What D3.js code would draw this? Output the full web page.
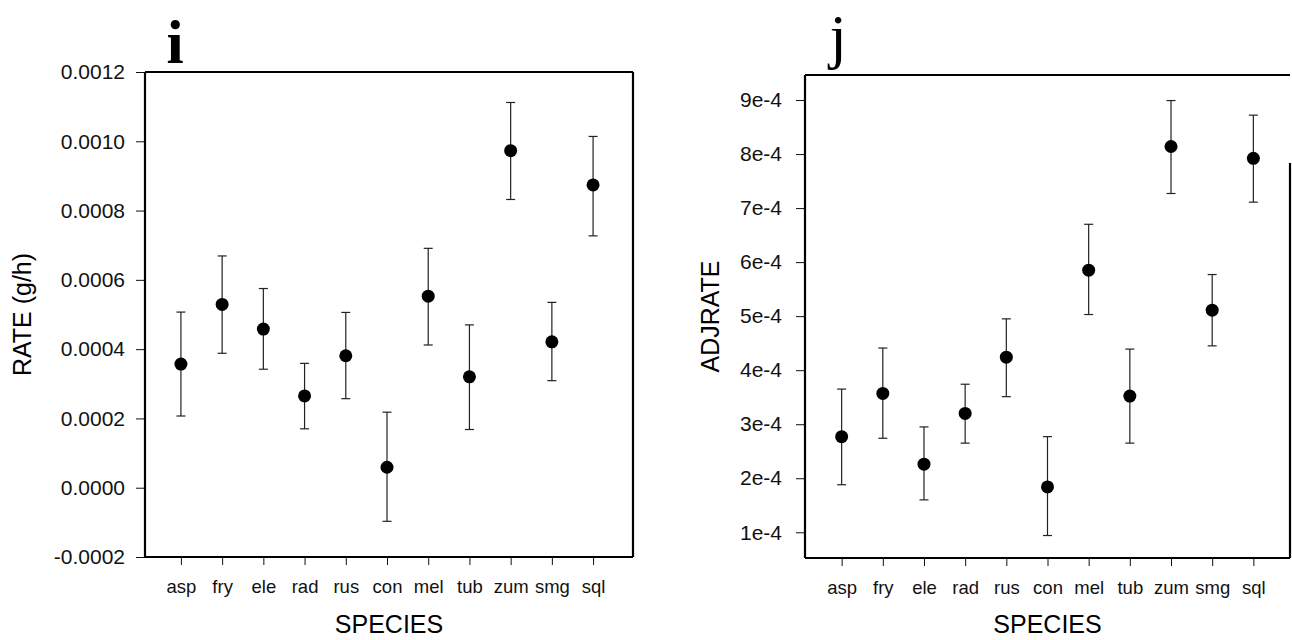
<!DOCTYPE html>
<html lang="en">
<head>
  <meta charset="UTF-8">
  <title>Species rate panels i and j</title>
  <script src="https://d3js.org/d3.v7.min.js"></script>
  <style>
    body {
      margin: 0;
      background: white;
    }
    svg {
      display: block;
      font-family: 'Liberation Sans', Arial, sans-serif;
    }
    .tick line {
      stroke: #111;
      stroke-width: 1;
    }
    .tick text {
      fill: #111;
    }
  </style>
</head>
<body>
  <svg id="chart" width="1292" height="640"></svg>

  <script>
    // species along the x axis
    var species = ["asp", "fry", "ele", "rad", "rus", "con", "mel", "tub", "zum", "smg", "sql"];

    // panel i: RATE (g/h)
    var rateMean = [0.000357, 0.000529, 0.000458, 0.000265, 0.000381, 0.000059, 0.000553, 0.000320, 0.000973, 0.000421, 0.000874];
    var rateLow  = [0.000207, 0.000388, 0.000342, 0.000170, 0.000257, -0.000097, 0.000412, 0.000168, 0.000832, 0.000309, 0.000727];
    var rateHigh = [0.000507, 0.000669, 0.000575, 0.000359, 0.000506, 0.000218, 0.000691, 0.000470, 0.001112, 0.000535, 0.001014];
    var rateTicks = [-0.0002, 0.0000, 0.0002, 0.0004, 0.0006, 0.0008, 0.0010, 0.0012];

    // panel j: ADJRATE
    var adjMean = [2.77e-4, 3.57e-4, 2.26e-4, 3.20e-4, 4.24e-4, 1.84e-4, 5.85e-4, 3.52e-4, 8.14e-4, 5.11e-4, 7.92e-4];
    var adjLow  = [1.88e-4, 2.74e-4, 1.60e-4, 2.65e-4, 3.51e-4, 0.94e-4, 5.03e-4, 2.65e-4, 7.27e-4, 4.45e-4, 7.11e-4];
    var adjHigh = [3.65e-4, 4.41e-4, 2.95e-4, 3.74e-4, 4.95e-4, 2.77e-4, 6.70e-4, 4.39e-4, 8.99e-4, 5.77e-4, 8.72e-4];
    var adjTicks = [1e-4, 2e-4, 3e-4, 4e-4, 5e-4, 6e-4, 7e-4, 8e-4, 9e-4];

    var svg = d3.select("#chart");

    function drawPanel(opt) {
      var g = svg.append("g");

      var x = d3.scalePoint()
        .domain(species)
        .range(opt.xRange)
        .padding(opt.xPad);

      var y = d3.scaleLinear()
        .domain(opt.yDomain)
        .range([opt.bottom, opt.top]);

      // y axis
      var yAxis = g.append("g")
        .attr("transform", "translate(" + opt.left + ",0)")
        .call(d3.axisLeft(y).tickValues(opt.yTicks).tickSize(9).tickPadding(opt.yPad).tickFormat(opt.yFormat));
      yAxis.select(".domain").remove();
      yAxis.selectAll("text").style("font-size", "21px");

      // x axis
      var xAxis = g.append("g")
        .attr("transform", "translate(0," + opt.bottom + ")")
        .call(d3.axisBottom(x).tickSize(8).tickPadding(15));
      xAxis.select(".domain").remove();
      xAxis.selectAll("text").style("font-size", "18.5px");

      // frame
      var frame = g.append("g").attr("stroke", "#000").attr("stroke-width", 2.2).attr("fill", "none");
      frame.append("line").attr("x1", opt.left).attr("x2", opt.right).attr("y1", opt.top).attr("y2", opt.top);
      frame.append("line").attr("x1", opt.left).attr("x2", opt.right).attr("y1", opt.bottom).attr("y2", opt.bottom);
      frame.append("line").attr("x1", opt.left).attr("x2", opt.left).attr("y1", opt.top).attr("y2", opt.bottom);
      frame.append("line").attr("x1", opt.right).attr("x2", opt.right).attr("y1", opt.rightTop).attr("y2", opt.bottom);

      // error bars
      var bars = g.append("g").attr("stroke", "#222").attr("stroke-width", 1.2);
      species.forEach(function(s, i) {
        var cx = x(s);
        bars.append("line").attr("x1", cx).attr("x2", cx).attr("y1", y(opt.low[i])).attr("y2", y(opt.high[i]));
        bars.append("line").attr("x1", cx - 4.5).attr("x2", cx + 4.5).attr("y1", y(opt.low[i])).attr("y2", y(opt.low[i]));
        bars.append("line").attr("x1", cx - 4.5).attr("x2", cx + 4.5).attr("y1", y(opt.high[i])).attr("y2", y(opt.high[i]));
      });

      // means
      g.append("g").selectAll("circle")
        .data(opt.mean)
        .join("circle")
        .attr("cx", function(d, i) { return x(species[i]); })
        .attr("cy", function(d) { return y(d); })
        .attr("r", 6.5)
        .attr("fill", "#000");

      // axis titles
      g.append("text")
        .attr("x", (opt.left + opt.right) / 2)
        .attr("y", 633)
        .attr("text-anchor", "middle")
        .style("font-size", "25px")
        .text("SPECIES");

      g.append("text")
        .attr("transform", "translate(" + opt.yLabelX + "," + ((opt.top + opt.bottom) / 2) + ") rotate(-90)")
        .attr("text-anchor", "middle")
        .style("font-size", "25px")
        .text(opt.yLabel);

      // panel letter
      g.append("text")
        .attr("x", opt.letterX)
        .attr("y", opt.letterY)
        .attr("text-anchor", "middle")
        .style("font-family", "'Liberation Serif', 'Times New Roman', serif")
        .style("font-weight", opt.letterWeight)
        .style("font-size", "62px")
        .text(opt.letter);
    }

    var plainDecimal = d3.format(".4f");

    drawPanel({
      left: 145, right: 633, top: 72, bottom: 557, rightTop: 72,
      xRange: [143, 631], xPad: 0.92,
      yDomain: [-0.0002, 0.0012], yTicks: rateTicks,
      yFormat: function(d) { return plainDecimal(d).replace("\u2212", "-"); }, yPad: 11,
      mean: rateMean, low: rateLow, high: rateHigh,
      yLabel: "RATE (g/h)", yLabelX: 31,
      letter: "i", letterX: 175, letterY: 63, letterWeight: "bold"
    });

    drawPanel({
      left: 805, right: 1290, top: 75, bottom: 558, rightTop: 163,
      xRange: [805, 1290], xPad: 0.89,
      yDomain: [0.524e-4, 9.463e-4], yTicks: adjTicks,
      yFormat: function(d) { return Math.round(d * 1e4) + "e-4"; }, yPad: 14,
      mean: adjMean, low: adjLow, high: adjHigh,
      yLabel: "ADJRATE", yLabelX: 719,
      letter: "j", letterX: 838, letterY: 57, letterWeight: "normal"
    });
  </script>
</body>
</html>
